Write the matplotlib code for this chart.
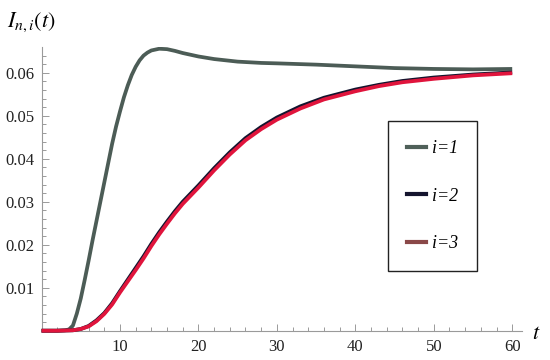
import matplotlib
matplotlib.use("Agg")
import matplotlib.pyplot as plt
from matplotlib.lines import Line2D
from matplotlib.ticker import MultipleLocator, FixedLocator

# ---- data ----
t1 = [0, 1, 2, 3, 3.5, 4, 4.5, 5, 5.5, 6, 6.5, 7, 7.5, 8, 8.5, 9, 9.5, 10, 10.5,
      11, 11.5, 12, 12.5, 13, 13.5, 14, 15, 16, 17, 18, 20, 22, 25, 28, 30, 35,
      40, 45, 50, 55, 60]
y1 = [0, 0, 0, 0.0001, 0.0003, 0.0012, 0.004, 0.0075, 0.0118, 0.0163, 0.021,
      0.0255, 0.030, 0.0345, 0.039, 0.0435, 0.0475, 0.051, 0.0543, 0.0571,
      0.0595, 0.0614, 0.0629, 0.0640, 0.0647, 0.0652, 0.0656, 0.0655, 0.0651,
      0.0646, 0.0638, 0.0632, 0.0626, 0.0623, 0.0622, 0.0619, 0.0615, 0.0611,
      0.0609, 0.0608, 0.0609]

t2 = [0, 2, 4, 5, 6, 7, 8, 9, 10, 11, 12, 13, 14, 15, 16, 17, 18, 20, 22, 24,
      26, 28, 30, 33, 36, 40, 43, 46, 50, 55, 60]
y2 = [0, 0, 0.0001, 0.0004, 0.0011, 0.0024, 0.0041, 0.0064, 0.0092, 0.0119,
      0.0146, 0.0173, 0.0202, 0.0229, 0.0254, 0.0278, 0.0300, 0.0338, 0.0378,
      0.0415, 0.0448, 0.0474, 0.0496, 0.0522, 0.0542, 0.0561, 0.0572, 0.0581,
      0.0589, 0.0596, 0.0601]

t3 = t2
y3 = [0, 0, 0.0001, 0.0004, 0.0010, 0.0022, 0.0039, 0.0061, 0.0089, 0.0115,
      0.0141, 0.0168, 0.0197, 0.0224, 0.0249, 0.0273, 0.0295, 0.0333, 0.0373,
      0.0410, 0.0443, 0.0469, 0.0491, 0.0517, 0.0538, 0.0557, 0.0569, 0.0578,
      0.0586, 0.0594, 0.0599]

labels = ["i=1", "i=2", "i=3"]
line_colors = ["#4c5c56", "#14142e", "#e0143c"]
legend_colors = ["#4f6059", "#14142e", "#8a4848"]

xticks = [10, 20, 30, 40, 50, 60]
yticks = [0.01, 0.02, 0.03, 0.04, 0.05, 0.06]
ytick_labels = ["0.01", "0.02", "0.03", "0.04", "0.05", "0.06"]

# ---- figure ----
plt.rcParams['mathtext.fontset'] = 'stix'
plt.rcParams['font.family'] = ['Liberation Serif', 'DejaVu Serif']

fig = plt.figure(figsize=(5.5, 3.6), dpi=100)
ax = fig.add_axes([0.0684, 0.0754, 0.880, 0.794])

lw = 2.7
ax.plot(t1, y1, color=line_colors[0], lw=lw, solid_capstyle='butt',
        solid_joinstyle='round', zorder=3)
ax.plot(t2, y2, color=line_colors[1], lw=lw, solid_capstyle='butt',
        solid_joinstyle='round', zorder=4)
ax.plot(t3, y3, color=line_colors[2], lw=lw, solid_capstyle='butt',
        solid_joinstyle='round', zorder=5)

ax.set_xlim(-0.5, 61.2)
ax.set_ylim(-0.0005, 0.066)

for s in ['top', 'right']:
    ax.spines[s].set_visible(False)
axis_col = '#9a9a9a'
ax.spines['left'].set_position(('data', 0))
ax.spines['bottom'].set_position(('data', 0))
ax.spines['left'].set_bounds(0, 0.066)
ax.spines['bottom'].set_bounds(0, 61.2)
for s in ['left', 'bottom']:
    ax.spines[s].set_color(axis_col)
    ax.spines[s].set_linewidth(0.8)

ax.xaxis.set_major_locator(FixedLocator(xticks))
ax.xaxis.set_minor_locator(MultipleLocator(2))
ax.yaxis.set_major_locator(FixedLocator(yticks))
ax.set_yticklabels(ytick_labels)
ax.yaxis.set_minor_locator(FixedLocator([0.002 * k for k in range(1, 33)]))

ax.tick_params(which='both', direction='in', color=axis_col, width=0.7,
               labelcolor='#222222', labelsize=12)
ax.tick_params(which='major', length=5)
ax.tick_params(which='minor', length=2.8)
ax.tick_params(axis='x', pad=6)
ax.tick_params(axis='y', pad=5)

fig.text(0.012, 0.925, r'$I_{n,i}(t)$', fontsize=16, ha='left', va='baseline')
fig.text(0.968, 0.058, r'$t$', fontsize=16, ha='left', va='baseline')

handles = [Line2D([], [], color=c, lw=3.0) for c in legend_colors]
leg = ax.legend(handles, labels, loc='upper left',
                bbox_to_anchor=(388 / 550, 1 - 121 / 360),
                bbox_transform=fig.transFigure, borderaxespad=0,
                frameon=True, fancybox=False, framealpha=1,
                handlelength=1.05, handletextpad=0.35, borderpad=1.05,
                labelspacing=1.7,
                prop={'style': 'italic', 'size': 13})
leg.get_frame().set_edgecolor('#222222')
leg.get_frame().set_linewidth(1.0)

fig.savefig('out.png', dpi=100)
